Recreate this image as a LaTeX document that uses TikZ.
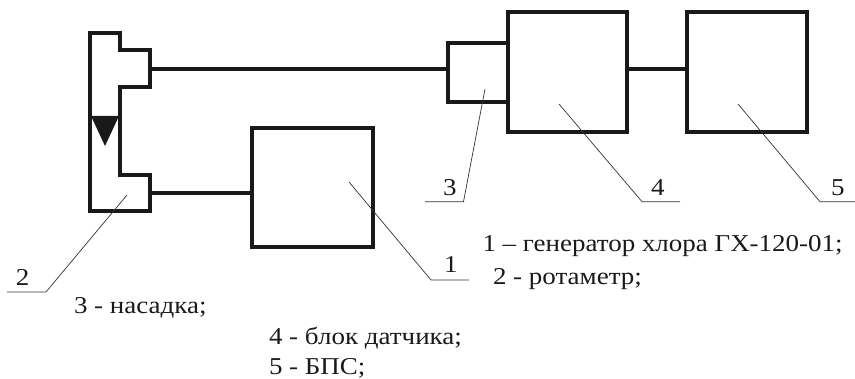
\documentclass[tikz,border=0pt]{standalone}
\usepackage{fontspec}
\setmainfont[FakeStretch=1.115]{Liberation Serif}
\tikzset{
  blockbox/.style={draw=black!90,line width=4pt,minimum width=#1,inner sep=0pt,outer sep=0pt,fill=none,anchor=north west},
  heavy/.style={draw=black!90,line width=4pt},
  leader/.style={draw=black!80,line width=0.7pt},
  txt/.style={inner sep=0pt,outer sep=0pt,anchor=base west,font=\fontsize{24.2}{28}\selectfont,text=black!90},
}
\begin{document}
\begin{tikzpicture}[x=1pt,y=-1pt]
\useasboundingbox (0,0) rectangle (855,379);
% blocks
\node[blockbox=121pt,minimum height=119.5pt] (b1) at (252,128) {};
\node[blockbox=119pt,minimum height=119.5pt] (b4) at (508,12.5) {};
\node[blockbox=120pt,minimum height=119.5pt] (b5) at (687,12.5) {};
% nozzle
\coordinate (n1) at (508,43);
\coordinate (n2) at (448,43);
\coordinate (n3) at (448,102);
\coordinate (n4) at (508,102);
\draw[heavy,miter limit=10] (n1) -- (n2) -- (n3) -- (n4);
% rotameter
\coordinate (r1) at (89.5,33);
\coordinate (r2) at (120,33);
\coordinate (r3) at (120,50);
\coordinate (r4) at (149.5,50);
\coordinate (r5) at (149.5,87);
\coordinate (r6) at (120,87);
\coordinate (r7) at (120,175);
\coordinate (r8) at (149.5,175);
\coordinate (r9) at (149.5,211.5);
\coordinate (r10) at (89.5,211.5);
\draw[heavy] (r1) -- (r2) -- (r3) -- (r4) -- (r5) -- (r6) -- (r7) -- (r8) -- (r9) -- (r10) -- cycle;
\coordinate (t1) at (91,116);
\coordinate (t2) at (119,116);
\coordinate (t3) at (105,146);
\fill[black!90] (t1) -- (t2) -- (t3) -- cycle;
% connectors
\coordinate (top) at (149.5,69);
\coordinate (ntop) at (448,69);
\coordinate (bot) at (149.5,193);
\draw[heavy] (top) -- (ntop);
\draw[heavy] (bot) -- (bot -| b1.west);
\draw[heavy] (b4.east |- ntop) -- (b5.west |- ntop);
% leaders
\coordinate (l1a) at (349,182); \coordinate (l1b) at (431,280); \coordinate (l1c) at (469,280);
\coordinate (l2a) at (127,195); \coordinate (l2b) at (46,292); \coordinate (l2c) at (7,292);
\coordinate (l3a) at (485,89); \coordinate (l3b) at (463.5,201.7); \coordinate (l3c) at (425,201.7);
\coordinate (l4a) at (559,104); \coordinate (l4b) at (642,201.7); \coordinate (l4c) at (680,201.7);
\coordinate (l5a) at (738,104); \coordinate (l5b) at (820,201.7); \coordinate (l5c) at (855,201.7);
\draw[leader] (l1a) -- (l1b) -- (l1c);
\draw[leader] (l2a) -- (l2b) -- (l2c);
\draw[leader] (l3a) -- (l3b) -- (l3c);
\draw[leader] (l4a) -- (l4b) -- (l4c);
\draw[leader] (l5a) -- (l5b) -- (l5c);
% numbers
\node[txt] (d1) at (444,273) {1};
\node[txt] (d2) at (16,285.7) {2};
\node[txt] (d3) at (443,196) {3};
\node[txt] (d4) at (651,195.5) {4};
\node[txt] (d5) at (831,195.5) {5};
% legend
\node[txt] (e1) at (482.5,251.7) {1 – генератор хлора ГХ-120-01;};
\node[txt] (e2) at (493,284.3) {2 - ротаметр;};
\node[txt] (e3) at (74,313.3) {3 - насадка;};
\node[txt] (e4) at (269,344.3) {4 - блок датчика;};
\node[txt] (e5) at (269,375) {5 - БПС;};
\end{tikzpicture}
\end{document}
